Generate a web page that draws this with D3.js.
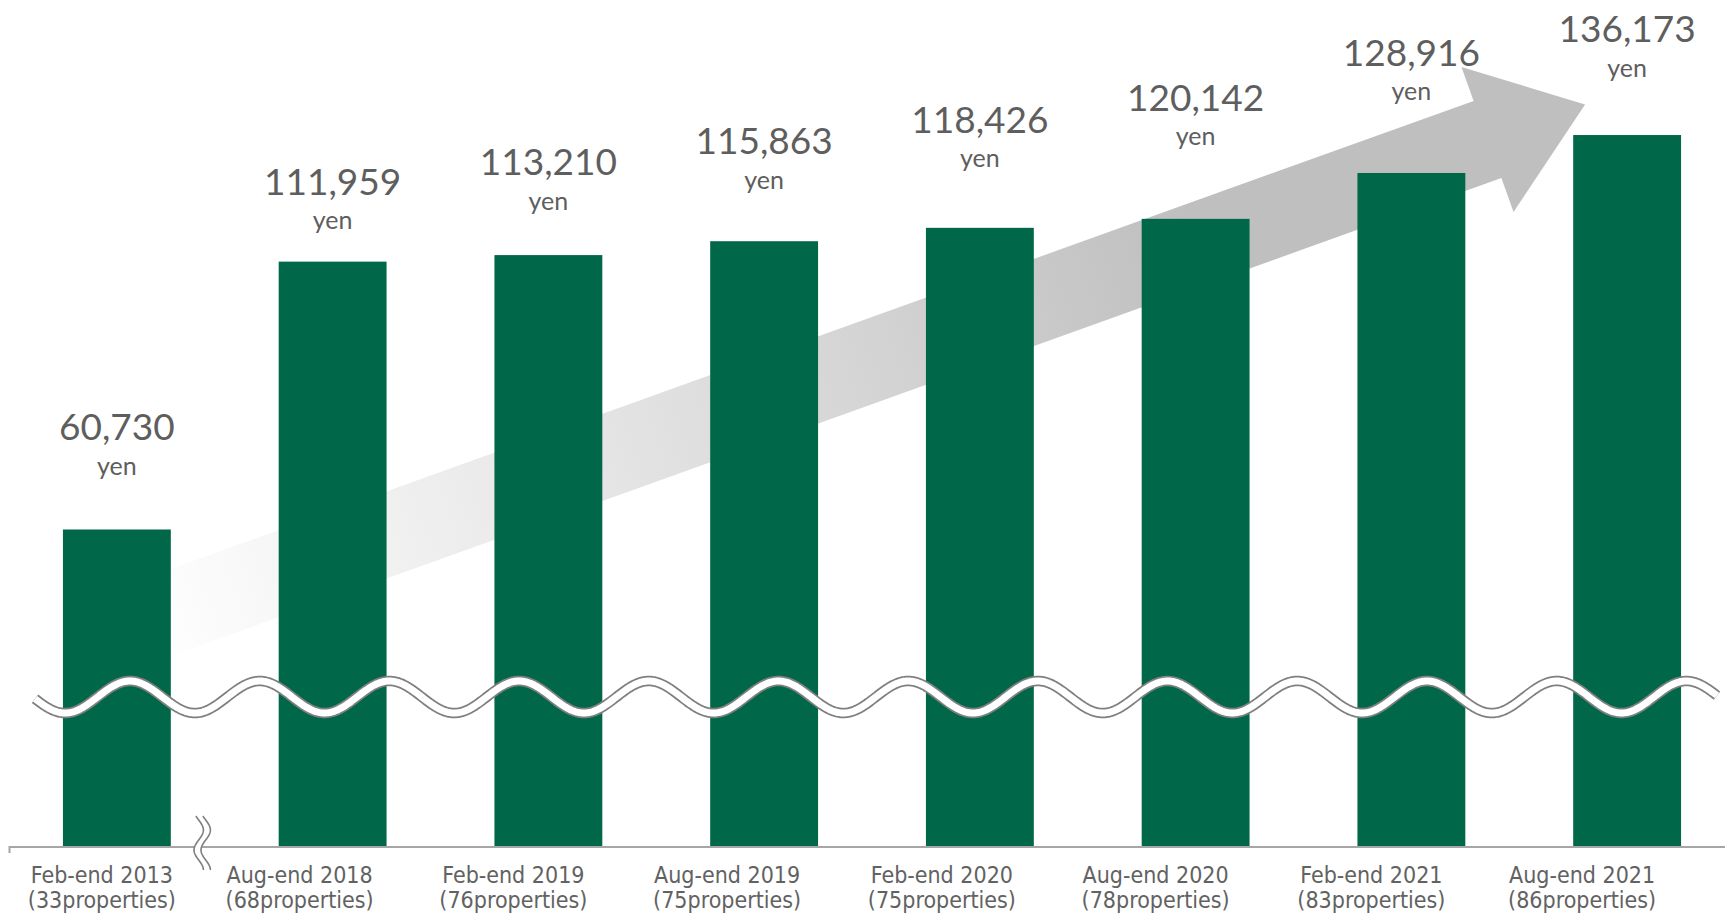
<!DOCTYPE html>
<html>
<head>
<meta charset="utf-8">
<script src="https://cdn.jsdelivr.net/npm/d3@7"></script>
<style>
  html, body { margin: 0; padding: 0; background: #ffffff; }
  svg { display: block; }
  .num { font-family: Lato, "Open Sans", sans-serif; font-weight: 400; fill: #5e5e5e; }
  .cat { font-family: "DejaVu Sans Condensed", "DejaVu Sans", sans-serif; font-stretch: condensed; fill: #626262; }
</style>
</head>
<body>
<svg id="chart" width="1725" height="913"></svg>
<script>
// ---- data ----
const categories = ["Feb-end 2013", "Aug-end 2018", "Feb-end 2019", "Aug-end 2019",
                    "Feb-end 2020", "Aug-end 2020", "Feb-end 2021", "Aug-end 2021"];
const propertyCounts = ["(33properties)", "(68properties)", "(76properties)", "(75properties)",
                        "(75properties)", "(78properties)", "(83properties)", "(86properties)"];
const rentValues = [60730, 111959, 113210, 115863, 118426, 120142, 128916, 136173];
const unitLabel = "yen";

// ---- layout (not data) ----
const W = 1725, H = 913;
const baseY = 847;
const labelLift = [89, 67, 80, 87, 95, 108, 107, 93];   // gap bar top -> number baseline
const catShift  = [-15, -33, -35, -37, -38, -40, -40, -45];

const svg = d3.select("#chart");

const x = d3.scaleBand().domain(categories).range([9, 1735])
  .paddingInner(0.5).paddingOuter(0.25);
const y = d3.scaleLinear().domain([0, 162000]).range([baseY, 0]);
const fmt = d3.format(",");
const cx = d => x(d) + x.bandwidth() / 2;

// ---- gradient arrow (behind bars) ----
const defs = svg.append("defs");
const grad = defs.append("linearGradient").attr("id", "arrowGrad")
  .attr("gradientUnits", "userSpaceOnUse")
  .attr("x1", 130).attr("y1", 630).attr("x2", 1200).attr("y2", 245);
grad.append("stop").attr("offset", 0).attr("stop-color", "#ffffff");
grad.append("stop").attr("offset", 0.45).attr("stop-color", "#e4e4e4");
grad.append("stop").attr("offset", 1).attr("stop-color", "#bfbfbf");

const theta = Math.atan(0.3597);
const u = [Math.cos(theta), -Math.sin(theta)];
const n = [Math.sin(theta), Math.cos(theta)];
const sx = cx(categories[0]);
const S = [sx, 495.8 + (495 - sx) * 0.3597];
const B = [1487.5, 139.5];
const wS = 41, wH = 77, headLen = 103.7;
const T = [B[0] + headLen * u[0], B[1] + headLen * u[1]];
const off = (p, k) => [p[0] + k * n[0], p[1] + k * n[1]];
const arrowPts = [off(S, -wS), off(B, -wS), off(B, -wH), T, off(B, wH), off(B, wS), off(S, wS)];
svg.append("path")
  .attr("d", d3.line()(arrowPts) + "Z")
  .attr("fill", "url(#arrowGrad)");

// ---- bars ----
svg.append("g").selectAll("rect").data(rentValues).join("rect")
  .attr("x", (d, i) => x(categories[i]))
  .attr("y", d => y(d))
  .attr("width", x.bandwidth())
  .attr("height", d => baseY - y(d))
  .attr("fill", "#006849");

// ---- axis line ----
svg.append("path")
  .attr("d", `M9.5,853V${baseY}H${W}`)
  .attr("fill", "none").attr("stroke", "#a6a6a6").attr("stroke-width", 2);

// ---- break mark on axis ----
const sCurve = (dx) => d3.range(816, 870.5, 1).map(yy => [198.7 + dx + 4.7 * Math.sin(2 * Math.PI * (yy - 820) / 40), yy]);
const left = sCurve(0), right = sCurve(7);
svg.append("path")
  .attr("d", d3.line()(left.concat(right.slice().reverse())) + "Z")
  .attr("fill", "#ffffff");
[left, right].forEach(c => svg.append("path").attr("d", d3.line()(c))
  .attr("fill", "none").attr("stroke", "#7f7f7f").attr("stroke-width", 1.6));

// ---- wave break across bars ----
const P = 129.7, A = 16, mid = 697;
const wavePts = d3.range(35, 1717.5, 1).map(xx => [xx, mid - A * Math.cos(2 * Math.PI * (xx - 130) / P)]);
const waveD = d3.line()(wavePts);
svg.append("path").attr("d", waveD).attr("fill", "none")
  .attr("stroke", "#7f7f7f").attr("stroke-width", 10.5);
svg.append("path").attr("d", waveD).attr("fill", "none")
  .attr("stroke", "#ffffff").attr("stroke-width", 7);

// ---- value labels ----
const lbl = svg.append("g");
rentValues.forEach((v, i) => {
  const by = y(v) - labelLift[i];
  lbl.append("text").attr("class", "num")
    .attr("x", cx(categories[i])).attr("y", by)
    .attr("text-anchor", "middle").attr("font-size", 37)
    .text(fmt(v));
  lbl.append("text").attr("class", "num")
    .attr("x", cx(categories[i])).attr("y", by + 34.5)
    .attr("text-anchor", "middle").attr("font-size", 25)
    .text(unitLabel);
});

// ---- category labels ----
const cg = svg.append("g");
categories.forEach((c, i) => {
  const xx = cx(c) + catShift[i];
  cg.append("text").attr("class", "cat").attr("x", xx).attr("y", 883)
    .attr("text-anchor", "middle").attr("font-size", 23).text(c);
  cg.append("text").attr("class", "cat").attr("x", xx).attr("y", 908)
    .attr("text-anchor", "middle").attr("font-size", 23).text(propertyCounts[i]);
});
</script>
</body>
</html>
